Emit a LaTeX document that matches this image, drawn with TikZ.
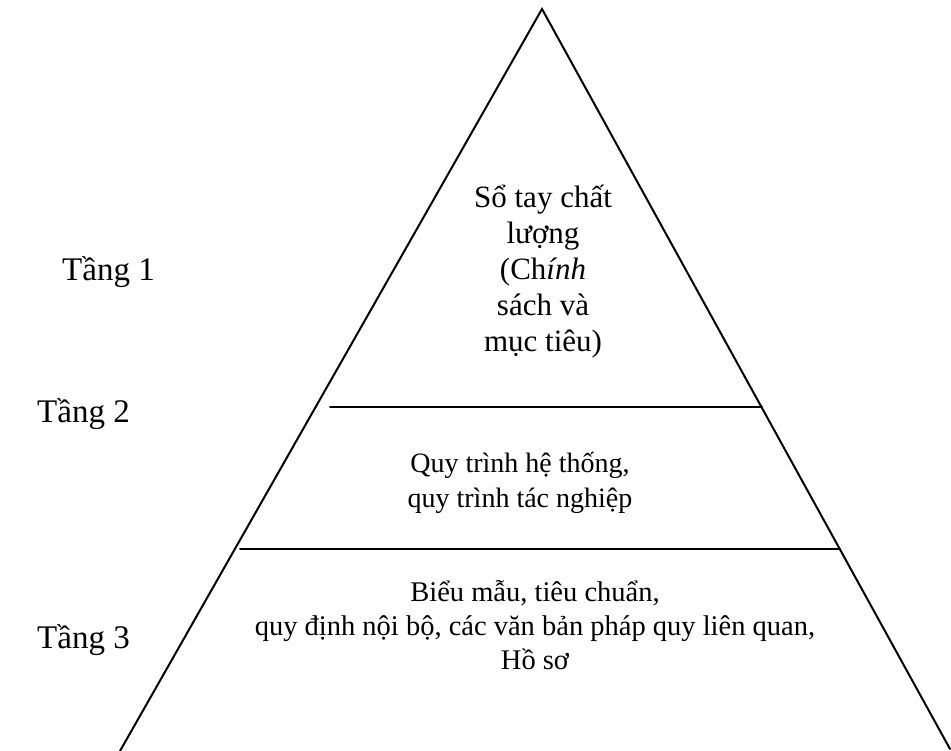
\documentclass[tikz,border=0pt]{standalone}
\usepackage{fontspec}
\setmainfont{Liberation Serif}
\begin{document}
\begin{tikzpicture}[x=1pt,y=1pt,
  edge/.style={line width=2pt, line cap=round},
  body/.style={font=\fontsize{28}{36}\selectfont, align=center, inner sep=0pt},
  tier/.style={font=\fontsize{33}{40}\selectfont, anchor=west, inner sep=0pt}]
\useasboundingbox (0,0) rectangle (951,751);
\coordinate (apex) at (542,742);
\coordinate (bl) at (120,0);
\coordinate (br) at (950,2);
\coordinate (l1a) at (330,344);
\coordinate (l1b) at (762,344);
\coordinate (l2a) at (240,202);
\coordinate (l2b) at (840,202);
\draw[edge] (bl) -- (apex) -- (br);
\draw[edge] (l1a) -- (l1b);
\draw[edge] (l2a) -- (l2b);
\node[body, font=\fontsize{31}{36}\selectfont] (t1) at (543,479) {Sổ tay chất\\lượng\\(Ch\textit{ính}\\sách và\\mục tiêu)};
\node[body, font=\fontsize{28}{35}\selectfont] (t2) at (520,268) {Quy trình hệ thống,\\quy trình tác nghiệp};
\node[body, font=\fontsize{28.5}{34}\selectfont] (t3) at (535,126) {Biểu mẫu, tiêu chuẩn,\\quy định nội bộ, các văn bản pháp quy liên quan,\\Hồ sơ};
\node[tier] (s1) at (62,479) {Tầng 1};
\node[tier] (s2) at (37,337) {Tầng 2};
\node[tier] (s3) at (37,111) {Tầng 3};
\end{tikzpicture}
\end{document}
